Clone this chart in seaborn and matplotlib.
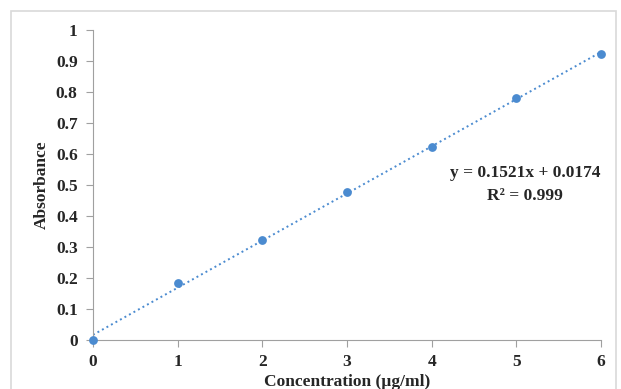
import matplotlib
matplotlib.use("Agg")
import matplotlib.pyplot as plt
from matplotlib.patches import Rectangle
import seaborn as sns
import pandas as pd

# data
concentration = [0, 1, 2, 3, 4, 5, 6]
absorbance = [0.0, 0.184, 0.323, 0.477, 0.623, 0.781, 0.921]
y_ticks = [0, 0.1, 0.2, 0.3, 0.4, 0.5, 0.6, 0.7, 0.8, 0.9, 1]
y_tick_labels = ["0", "0.1", "0.2", "0.3", "0.4", "0.5", "0.6", "0.7", "0.8", "0.9", "1"]
x_ticks = [0, 1, 2, 3, 4, 5, 6]
equation = "y = 0.1521x + 0.0174"
r_squared = "R² = 0.999"

df = pd.DataFrame({"conc": concentration, "abs": absorbance})

sns.set_style("white")
plt.rcParams["font.family"] = ["Liberation Serif", "DejaVu Serif"]
plt.rcParams["font.weight"] = "bold"

fig = plt.figure(figsize=(6.21, 3.89), dpi=100)
ax = fig.add_axes([93 / 621, 1 - 340 / 389, 508 / 621, 310 / 389])

blue = "#4B8BD0"
sns.regplot(data=df, x="conc", y="abs", ax=ax, ci=None, marker="o",
            scatter_kws={"s": 40, "color": blue, "linewidths": 0,
                         "clip_on": False, "zorder": 3, "alpha": 1},
            line_kws={"color": blue, "linestyle": ":", "linewidth": 1.4})

ax.set_xlim(0, 6)
ax.set_ylim(0, 1)
ax.set_xticks(x_ticks)
ax.set_yticks(y_ticks)
ax.set_yticklabels(y_tick_labels)
ax.tick_params(axis="both", labelsize=12.5, length=5, width=0.8, color="#a0a0a0",
               direction="out", bottom=True, left=True)
ax.tick_params(axis="y", pad=6)
ax.tick_params(axis="x", pad=5)
for lbl in ax.get_xticklabels() + ax.get_yticklabels():
    lbl.set_fontweight("bold")

for side in ["top", "right"]:
    ax.spines[side].set_visible(False)
for side in ["left", "bottom"]:
    ax.spines[side].set_color("#a0a0a0")
    ax.spines[side].set_linewidth(0.8)

ax.set_xlabel("Concentration (µg/ml)", fontsize=12.5, fontweight="bold", labelpad=3)
ax.set_ylabel("Absorbance", fontsize=12.5, fontweight="bold", labelpad=4)

ax.text(5.1, 0.54, equation, ha="center", va="center", fontsize=12.5, fontweight="bold")
ax.text(5.1, 0.465, r_squared, ha="center", va="center", fontsize=12.5, fontweight="bold")

# outer chart border
fig.patches.append(Rectangle((11 / 621, -0.05), 605 / 621, 1 - 11 / 389 + 0.05,
                             transform=fig.transFigure, fill=False,
                             edgecolor="#d9d9d9", linewidth=1.2))

fig.savefig("out.png", dpi=100)
